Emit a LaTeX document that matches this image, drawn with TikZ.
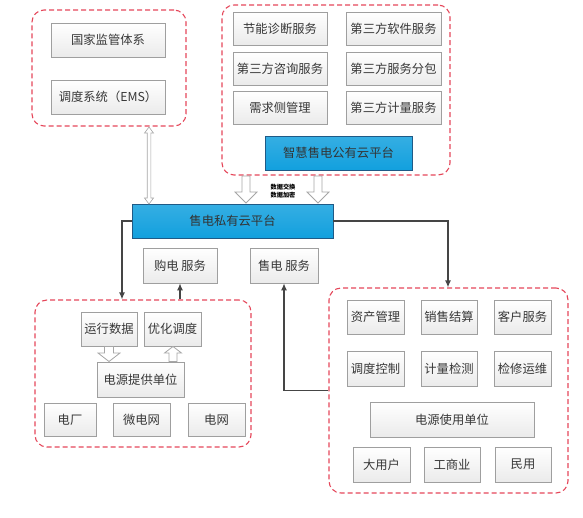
\documentclass[tikz,border=0pt]{standalone}
\usepackage{fontspec}
\setmainfont{Noto Sans CJK SC}
\usetikzlibrary{arrows.meta,shadows,calc}
\definecolor{txt}{HTML}{383838}
\definecolor{redd}{HTML}{E5475A}
\definecolor{bluef}{HTML}{12A0DE}
\definecolor{blueb}{HTML}{1F5A86}
\definecolor{conn}{HTML}{454545}
\newcommand\hollowarrow[6]{% x, ybase, ytip, yheadbase, shafthalf, headhalf
  \draw[hollow] (#1-#5,#2) -- (#1+#5,#2) -- (#1+#5,#4) -- (#1+#6,#4) -- (#1,#3)
    -- (#1-#6,#4) -- (#1-#5,#4) -- cycle;}
\newcommand\hollowdouble[7]{% x, ytop tip, ytop headbase, ybot headbase, ybot tip, shafthalf, headhalf
  \draw[hollow, line width=0.6pt] (#1,#2) -- (#1+#7,#3) -- (#1+#6,#3) -- (#1+#6,#4) -- (#1+#7,#4) -- (#1,#5)
    -- (#1-#7,#4) -- (#1-#6,#4) -- (#1-#6,#3) -- (#1-#7,#3) -- cycle;}
\begin{document}
\begin{tikzpicture}[x=1pt,y=-1pt,
  gbox/.style={draw=gray!75, line width=0.7pt, top color=white, bottom color=gray!16,
    text=txt, font=\fontsize{12.3}{14}\selectfont, inner sep=0pt,
    drop shadow={shadow xshift=1.3pt, shadow yshift=-1.3pt, fill=gray!55, opacity=0.6}},
  bbox/.style={draw=blueb, line width=0.8pt, top color=bluef!85!white, bottom color=bluef,
    text=black!80, font=\fontsize{12.3}{14}\selectfont, inner sep=0pt,
    drop shadow={shadow xshift=1.3pt, shadow yshift=-1.3pt, fill=gray!55, opacity=0.6}},
  grp/.style={draw=redd, line width=1.1pt, dash pattern=on 5pt off 3pt, rounded corners=12pt, inner sep=0pt},
  arr/.style={draw=conn, line width=1.2pt, -{Latex[length=7pt,width=6pt]}},
  hollow/.style={draw=gray!70, fill=white, line width=0.8pt},
]
\useasboundingbox (0,0) rectangle (583,517);

% top-left group
\node[grp, minimum width=154, minimum height=116] (g1) at (109,68) {};
\node[gbox, minimum width=114, minimum height=34] (jg) at (108,40) {国家监管体系};
\node[gbox, minimum width=114, minimum height=34] (ems) at (108,97) {调度系统（EMS）};

% top-right group
\node[grp, minimum width=228, minimum height=170] (g2) at (336,90) {};
\node[gbox, minimum width=94, minimum height=33] (a1) at (280,28.5) {节能诊断服务};
\node[gbox, minimum width=94, minimum height=33] (a2) at (280,68.5) {第三方咨询服务};
\node[gbox, minimum width=94, minimum height=33] (a3) at (280,107.5) {需求侧管理};
\node[gbox, minimum width=95, minimum height=33] (b1) at (393.5,28.5) {第三方软件服务};
\node[gbox, minimum width=95, minimum height=33] (b2) at (393.5,68.5) {第三方服务分包};
\node[gbox, minimum width=95, minimum height=33] (b3) at (393.5,107.5) {第三方计量服务};
\node[bbox, minimum width=147, minimum height=34] (pub) at (338.5,153) {智慧售电公有云平台};

% private cloud
\node[bbox, minimum width=201, minimum height=34] (pc) at (232.5,221) {售电私有云平台};

% hollow arrows between clouds
\hollowarrow{246}{176}{203}{192}{4}{11}
\hollowarrow{318}{176}{203}{192}{4}{11}
\node[font=\fontsize{6.2}{8}\selectfont\bfseries, text=black, align=center, inner sep=0pt] (lbl) at (283,191) {数据交换\\数据加密};

% services
\node[gbox, minimum width=74, minimum height=35] (gd) at (180,265.5) {购电\ 服务};
\node[gbox, minimum width=68, minimum height=35] (sd) at (284,265.5) {售电\ 服务};

% bottom-left group
\node[grp, minimum width=216, minimum height=147] (g3) at (143,373.5) {};
\node[gbox, minimum width=56, minimum height=34] (yx) at (109,329) {运行数据};
\node[gbox, minimum width=57, minimum height=34] (yh) at (172.5,329) {优化调度};
\node[gbox, minimum width=87, minimum height=35] (dy) at (140.5,379.5) {电源提供单位};
\node[gbox, minimum width=52, minimum height=33] (dc) at (70,419.5) {电厂};
\node[gbox, minimum width=57, minimum height=33] (wdw) at (141.5,419.5) {微电网};
\node[gbox, minimum width=57, minimum height=33] (dw) at (216.5,419.5) {电网};
\hollowarrow{109}{346.5}{361.5}{353}{4.5}{11}
\hollowarrow{173}{361.5}{346.5}{353}{4}{8.5}

% bottom-right group
\node[grp, minimum width=239, minimum height=205] (g4) at (448.5,390.5) {};
\node[gbox, minimum width=57, minimum height=34] (c1) at (375.5,317) {资产管理};
\node[gbox, minimum width=56, minimum height=34] (c2) at (449,317) {销售结算};
\node[gbox, minimum width=57, minimum height=34] (c3) at (522.5,317) {客户服务};
\node[gbox, minimum width=57, minimum height=35] (d1) at (375.5,368.5) {调度控制};
\node[gbox, minimum width=56, minimum height=35] (d2) at (449,368.5) {计量检测};
\node[gbox, minimum width=57, minimum height=35] (d3) at (522.5,368.5) {检修运维};
\node[gbox, minimum width=164, minimum height=35] (sy) at (452,419.5) {电源使用单位};
\node[gbox, minimum width=57, minimum height=35] (e1) at (381.5,464.5) {大用户};
\node[gbox, minimum width=56, minimum height=35] (e2) at (452,464.5) {工商业};
\node[gbox, minimum width=56, minimum height=35] (e3) at (523,464.5) {民用};

% connectors
\coordinate (lx) at (122,0);
\coordinate (rx) at (448,0);
\hollowdouble{149}{127}{133}{198}{204}{1.8}{4.5}
\draw[arr] (pc.west) -- (pc.west -| lx) -- (lx |- g3.north);
\draw[arr] (pc.east) -- (pc.east -| rx) -- (rx |- g4.north);
\draw[arr] (gd.south |- g3.north) -- (gd.south);
\draw[arr] (g4.west) -| (sd.south);
\end{tikzpicture}
\end{document}
